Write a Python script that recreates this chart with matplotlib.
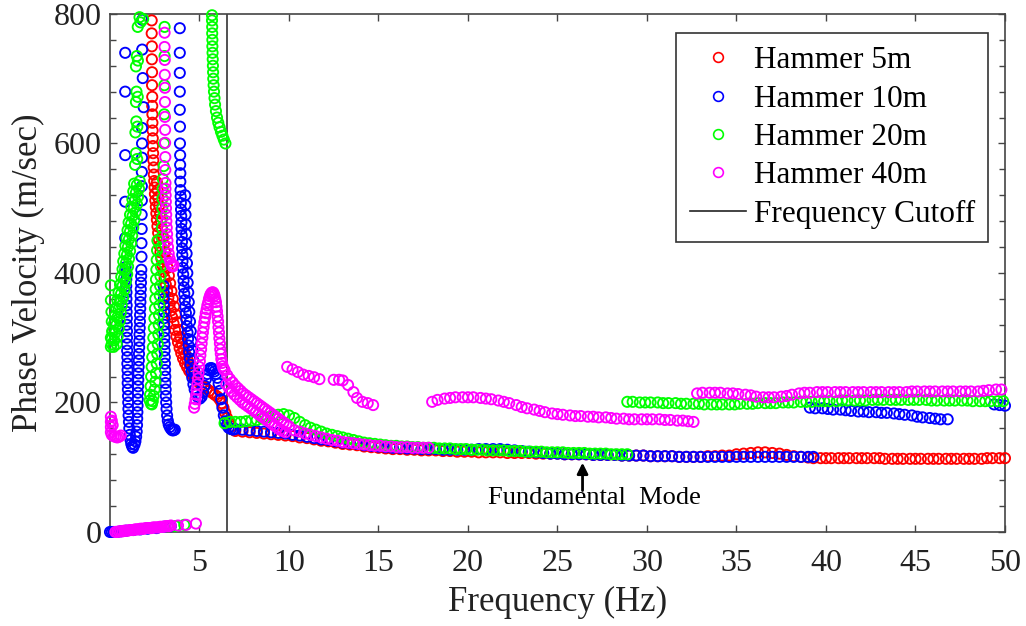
import matplotlib
matplotlib.use("Agg")
import matplotlib.pyplot as plt
from matplotlib.lines import Line2D
from matplotlib.ticker import MultipleLocator

plt.rcParams['font.family'] = ['Liberation Serif', 'DejaVu Serif']

# ---------------- data (frequency Hz, phase velocity m/s) ----------------
series_names = ["Hammer 5m", "Hammer 10m", "Hammer 20m", "Hammer 40m"]
series_colors = ["#ff0000", "#0000ff", "#00ff00", "#ff00ff"]
cutoff_freq = 6.55
x_ticks = [5, 10, 15, 20, 25, 30, 35, 40, 45, 50]
y_ticks = [0, 200, 400, 600, 800]

# Hammer 5m
red_branch = [(2.33,790),(2.33,770),(2.34,750),(2.34,730),(2.35,710),(2.35,690),(2.36,672),(2.36,658),(2.37,645),(2.37,632),(2.38,620),(2.39,608),(2.40,596),(2.41,585),(2.42,574),(2.44,563),(2.45,552),(2.47,542),(2.49,532),(2.51,522),(2.53,512),(2.56,502),(2.59,492),(2.62,482),(2.65,472),(2.69,462),(2.73,452),(2.77,442),(2.82,432),(2.87,422),(2.93,412),(2.99,402),(3.05,392),(3.12,382),(3.19,372),(3.26,362),(3.33,352),(3.40,342),(3.47,332),(3.55,322),(3.63,312),(3.71,302),(3.80,293),(3.89,284),(3.98,276),(4.08,268),(4.19,261),(4.30,255),(4.42,249),(4.55,244),(4.68,239),(4.82,235),(4.96,231),(5.10,227),(5.25,224),(5.40,221),(5.55,218),(5.70,215),(5.85,212),(6.00,209),(6.12,205),(6.24,199),(6.34,192),(6.44,184),(6.54,176),(6.65,169),(6.78,163),(6.92,158)]
red_branch_b = [(2.62,540),(2.66,528),(2.70,516),(2.75,504),(2.80,492),(2.85,480),(2.90,468),(2.96,456),(3.02,444),(3.08,432),(3.15,420),(3.22,408),(3.29,396),(3.36,384),(3.43,372),(3.51,360),(3.59,348),(3.67,336),(3.75,324),(3.84,312),(3.93,301),(4.02,291),(4.12,282),(4.22,274),(4.33,266),(4.45,259),(4.58,252),(4.72,246)]
red_fund = [(7.0,156),(7.4,155),(7.8,154),(8.2,153),(8.6,152),(9.0,151),(9.4,150),(9.8,149),(10.2,148),(10.6,146),(11.0,145),(11.4,143),(11.8,141),(12.2,140),(12.6,138),(13.0,136),(13.4,135),(13.8,134),(14.2,132),(14.6,131),(15.0,130),(15.4,129),(15.8,128),(16.2,128),(16.6,127),(17.0,127),(17.4,126),(17.8,126),(18.2,126),(18.6,125),(19.0,125),(19.4,124),(19.8,124),(20.2,124),(20.6,123),(21.0,123),(21.4,123),(21.8,123),(22.2,122),(22.6,122),(23.0,122),(23.4,122),(23.8,121),(24.2,121),(24.6,121),(25.0,121),(25.4,120),(25.8,120),(26.2,120),(26.6,120),(27.0,119),(27.4,119),(27.8,119),(28.2,119),(28.6,118),(29.0,118),(29.4,118),(29.8,118),(30.2,117),(30.6,117),(31.0,117),(31.4,117),(31.8,116),(32.2,116),(32.6,116),(33.0,116),(33.4,117),(33.8,117),(34.2,118),(34.6,118),(35.0,120),(35.4,121),(35.8,122),(36.2,123),(36.6,123),(37.0,122),(37.4,121),(37.8,119),(38.2,117),(38.6,116),(39.0,115)]
red_tail = [(39.3,114),(39.7,114),(40.0,114),(40.3,114),(40.7,114),(41.0,114),(41.3,114),(41.7,114),(42.0,114),(42.3,114),(42.7,114),(43.0,114),(43.3,113),(43.7,113),(44.0,113),(44.3,113),(44.7,113),(45.0,113),(45.3,113),(45.7,113),(46.0,113),(46.3,113),(46.7,113),(47.0,113),(47.3,113),(47.7,113),(48.0,113),(48.3,113),(48.7,113),(49.0,114),(49.3,114),(49.7,114),(50.0,114)]

# Hammer 10m
blue_floor = [(0.0,0),(0.1,0),(0.2,0),(0.3,0),(0.4,0),(0.6,1),(0.9,2),(1.3,3),(1.7,4),(2.1,5),(2.6,6),(3.0,8),(3.4,9)]
blue_sparse = [(0.85,740),(0.85,680),(0.85,582),(0.85,510),(0.85,454),(0.87,409)]
blue_col_a = [(0.90,400),(0.91,390),(0.91,380),(0.92,370),(0.92,360),(0.93,350),(0.93,340),(0.94,330),(0.94,320),(0.95,310),(0.95,300),(0.96,290),(0.96,280),(0.97,270),(0.97,260),(0.98,250),(0.99,240),(0.99,230),(1.00,220),(1.01,210),(1.02,200),(1.03,190),(1.04,180),(1.06,170),(1.08,160),(1.11,150),(1.15,142),(1.19,136),(1.24,132),(1.29,130)]
blue_col_b = [(1.80,791),(1.80,745),(1.83,701),(1.88,656),(1.79,624),(1.79,600),(1.79,578),(1.78,556),(1.78,534),(1.78,512),(1.77,490),(1.77,468),(1.76,446),(1.76,425),(1.75,405),(1.74,395),(1.73,385),(1.72,375),(1.71,365),(1.70,355),(1.69,345),(1.68,335),(1.67,325),(1.66,315),(1.65,305),(1.64,295),(1.63,285),(1.62,275),(1.61,265),(1.60,255),(1.59,245),(1.58,235),(1.57,225),(1.56,215),(1.55,205),(1.54,195),(1.53,185),(1.52,175),(1.51,165),(1.49,155),(1.46,147),(1.42,140),(1.37,135)]
blue_col_c = [(3.00,380),(3.00,370),(3.01,360),(3.01,350),(3.02,340),(3.02,330),(3.03,320),(3.03,310),(3.04,300),(3.05,290),(3.05,280),(3.06,270),(3.07,260),(3.08,250),(3.09,240),(3.10,230),(3.11,220),(3.12,210),(3.14,200),(3.16,190),(3.19,180),(3.23,172),(3.28,166),(3.34,162),(3.41,159),(3.48,157),(3.55,157),(3.62,158)]
blue_col_d = [(3.90,778),(3.90,740),(3.90,709),(3.90,680),(3.90,652),(3.91,626),(3.91,600),(3.92,582),(3.92,567),(3.93,554),(3.93,541),(3.94,528),(3.95,518),(3.96,508),(3.97,498),(3.98,488),(3.99,478),(4.00,468),(4.01,458),(4.02,448),(4.03,438),(4.04,428),(4.05,418),(4.07,408),(4.09,398),(4.11,388),(4.13,378),(4.15,368),(4.18,358),(4.21,348),(4.24,338),(4.27,328),(4.30,318),(4.33,308),(4.36,298),(4.39,288),(4.42,278),(4.46,268),(4.50,258),(4.55,248),(4.60,238),(4.66,228),(4.73,220),(4.82,213),(4.92,208),(5.02,206),(5.12,209),(5.20,216),(5.28,226),(5.36,236),(5.44,244),(5.52,250),(5.60,253),(5.68,253),(5.76,251),(5.84,248),(5.92,244),(6.00,238),(6.07,229),(6.14,218),(6.21,205),(6.28,192),(6.36,180),(6.44,171),(6.53,165),(6.63,161),(6.75,159),(6.88,158)]
blue_col_e = [(4.20,520),(4.21,505),(4.22,490),(4.23,475),(4.25,460),(4.26,445),(4.28,430),(4.30,415),(4.32,400),(4.34,385),(4.37,370),(4.40,355),(4.43,340),(4.47,325),(4.51,310),(4.55,295),(4.60,280),(4.65,265),(4.70,250),(4.76,237)]
blue_fund = [(7.0,159),(7.4,158),(7.8,157),(8.2,156),(8.6,155),(9.0,154),(9.4,153),(9.8,152),(10.2,150),(10.6,149),(11.0,147),(11.4,145),(11.8,143),(12.2,142),(12.6,140),(13.0,138),(13.4,137),(13.8,136),(14.2,134),(14.6,133),(15.0,132),(15.4,131),(15.8,130),(16.2,130),(16.6,129),(17.0,129),(17.4,128),(17.8,128),(18.2,128),(18.6,127),(19.0,127),(19.4,127),(19.8,127),(20.2,127),(20.6,128),(21.0,128),(21.4,128),(21.8,128),(22.2,127),(22.6,126),(23.0,125),(23.4,124),(23.8,123),(24.2,122),(24.6,121),(25.0,121),(25.4,120),(25.8,120),(26.2,120),(26.6,120),(27.0,119),(27.4,119),(27.8,119),(28.2,119),(28.6,118),(29.0,118),(29.4,118),(29.8,118),(30.2,117),(30.6,117),(31.0,117),(31.4,117),(31.8,116),(32.2,116),(32.6,116),(33.0,116),(33.4,116),(33.8,116),(34.2,116),(34.6,116),(35.0,116),(35.4,116),(35.8,116),(36.2,116),(36.6,116),(37.0,116),(37.4,116),(37.8,116),(38.2,116),(38.6,116),(39.0,116),(39.3,116)]
blue_upper = [(39.1,192),(39.4,191),(39.8,191),(40.1,190),(40.4,189),(40.8,189),(41.1,188),(41.4,187),(41.8,186),(42.1,186),(42.4,185),(42.8,185),(43.1,184),(43.4,184),(43.8,183),(44.1,182),(44.4,181),(44.8,180),(45.1,178),(45.4,177),(45.8,176),(46.1,175),(46.4,174),(46.8,174),(49.4,197),(49.7,196),(50.0,195)]

# Hammer 20m
green_edge = [(0.05,381),(0.05,358),(0.08,340),(0.10,325),(0.12,310),(0.05,300),(0.10,290)]
green_rise_a = [(0.05,286),(0.10,298),(0.16,310),(0.23,322),(0.28,334),(0.34,346),(0.41,358),(0.48,370),(0.56,382),(0.63,394),(0.70,406),(0.74,418),(0.80,430),(0.86,442),(0.92,454),(0.98,466),(1.04,478),(1.12,490),(1.19,502),(1.25,514),(1.30,526),(1.35,538)]
green_rise_b = [(0.37,290),(0.43,302),(0.49,314),(0.55,326),(0.60,338),(0.66,350),(0.73,362),(0.81,374),(0.88,386),(0.96,398),(1.01,410),(1.06,422),(1.12,434),(1.18,446),(1.24,458),(1.30,470),(1.36,482),(1.43,494),(1.51,506),(1.57,518),(1.62,530),(1.66,542)]
green_rise_c = [(0.20,286),(0.24,296),(0.30,308),(0.36,320),(0.42,332),(0.48,344),(0.55,356),(0.62,368),(0.70,380),(0.78,392),(0.84,404),(0.90,416),(0.95,428),(1.00,440),(1.06,452),(1.12,464),(1.18,476),(1.26,488),(1.33,500),(1.40,512),(1.45,524),(1.50,536)]
green_blobs = [(1.40,567),(1.52,576),(1.45,585),(1.42,617),(1.53,626),(1.47,634),(1.45,664),(1.55,672),(1.48,680),(1.45,719),(1.56,728),(1.50,735),(1.55,780),(1.70,787),(1.85,792),(1.65,795)]
green_col = [(3.05,780),(3.05,735),(3.04,690),(3.03,645),(3.02,600),(3.00,565),(2.95,545),(2.94,530),(2.93,515),(2.92,500),(2.91,485),(2.90,470),(2.88,455),(2.87,440),(2.85,425),(2.84,410),(2.82,395),(2.80,380),(2.78,365),(2.76,350),(2.74,335),(2.72,320),(2.70,305),(2.67,290),(2.64,275),(2.61,260),(2.57,245),(2.53,232),(2.49,220),(2.44,210),(2.39,202),(2.34,197),(2.29,198)]
green_col_b = [(2.65,450),(2.63,435),(2.61,420),(2.59,405),(2.57,390),(2.55,375),(2.53,360),(2.51,345),(2.48,330),(2.45,315),(2.42,300),(2.39,285),(2.36,270),(2.33,255),(2.30,240),(2.27,225),(2.24,212),(2.22,203)]
green_high = [(5.70,798),(5.70,790),(5.71,780),(5.71,770),(5.72,760),(5.72,750),(5.73,740),(5.74,730),(5.75,720),(5.76,710),(5.77,700),(5.79,690),(5.81,680),(5.84,670),(5.87,660),(5.92,650),(5.98,640),(6.05,632),(6.12,625),(6.20,618),(6.28,612),(6.36,606),(6.45,600)]
green_floor = [(3.65,9),(4.15,11)]
green_fund = [(6.4,168),(6.7,170),(7.0,170),(7.3,170),(7.6,171),(7.9,172),(8.2,173),(8.5,175),(8.8,177),(9.1,179),(9.4,181),(9.7,182),(10.0,180),(10.3,176),(10.6,170),(10.9,165),(11.2,161),(11.5,158),(11.8,155),(12.1,152),(12.4,150),(12.7,148),(13.0,146),(13.3,144),(13.6,142),(13.9,140),(14.2,138),(14.5,137),(14.8,136),(15.1,135),(15.4,134),(15.7,133),(16.0,133),(16.3,132),(16.6,132),(16.9,131),(17.2,131),(17.5,130),(17.8,130),(18.1,130),(18.4,129),(18.7,129),(19.0,129),(19.3,128),(19.6,128),(19.9,128),(20.2,127),(20.5,127),(20.8,127),(21.1,126),(21.4,126),(21.7,126),(22.0,126),(22.3,125),(22.6,125),(22.9,125),(23.2,124),(23.5,124),(23.8,124),(24.1,124),(24.4,123),(24.7,123),(25.0,123),(25.3,123),(25.6,122),(25.9,122),(26.2,122),(26.5,122),(26.8,121),(27.1,121),(27.4,121),(27.7,121),(28.0,120),(28.3,120),(28.6,120),(28.9,120)]
green_upper = [(28.9,201),(29.2,201),(29.6,200),(29.9,200),(30.2,200),(30.6,200),(30.9,199),(31.2,199),(31.6,199),(31.9,198),(32.2,198),(32.6,198),(32.9,198),(33.2,197),(33.6,197),(33.9,197),(34.2,197),(34.6,197),(34.9,197),(35.2,198),(35.6,198),(35.9,198),(36.2,199),(36.6,199),(36.9,199),(37.2,199),(37.6,200),(37.9,200),(38.2,200),(38.6,201),(38.9,201),(39.2,201),(39.6,202),(39.9,202),(40.2,202),(40.6,202),(40.9,203),(41.2,203),(41.6,203),(41.9,203),(42.2,203),(42.6,204),(42.9,204),(43.2,204),(43.6,204),(43.9,204),(44.2,204),(44.6,204),(44.9,204),(45.2,204),(45.6,204),(45.9,203),(46.2,203),(46.6,203),(46.9,203),(47.2,203),(47.6,203),(47.9,203),(48.2,202),(48.6,202),(48.9,202),(49.2,202),(49.6,202),(49.9,202)]

# Hammer 40m
mag_blob = [(0.05,178),(0.05,170),(0.05,162),(0.05,154),(0.10,172),(0.15,165),(0.10,150),(0.20,148),(0.30,147),(0.40,146),(0.50,147),(0.60,149)]
mag_floor = [(0.3,0),(0.4,0),(0.5,1),(0.6,1),(0.7,1),(0.8,2),(0.9,2),(1.0,2),(1.1,3),(1.2,3),(1.3,3),(1.4,4),(1.5,4),(1.6,4),(1.7,5),(1.8,5),(1.9,5),(2.0,6),(2.1,6),(2.2,6),(2.3,6),(2.4,7),(2.5,7),(2.6,7),(2.7,7),(2.8,8),(2.9,8),(3.0,8),(3.1,9),(3.2,9),(3.3,9),(3.4,10),(3.8,10),(4.25,11),(4.8,13)]
mag_col = [(3.05,771),(3.05,749),(3.06,729),(3.06,706),(3.07,686),(3.07,664),(3.07,641),(3.08,621),(3.08,601),(3.09,579),(3.09,559),(3.10,539),(3.10,530),(3.11,520),(3.12,510),(3.13,500),(3.14,490),(3.15,480),(3.17,470),(3.19,460),(3.21,450),(3.24,440),(3.28,430),(3.33,422),(3.38,416),(3.44,412),(3.50,410),(3.55,412)]
mag_hump = [(4.70,192),(4.78,205),(4.85,220),(4.92,237),(4.98,255),(5.05,273),(5.12,291),(5.19,308),(5.27,324),(5.35,338),(5.44,350),(5.53,360),(5.62,367),(5.71,370),(5.80,368),(5.88,360),(5.95,348),(6.01,333),(6.06,316),(6.11,299),(6.16,282),(6.22,267),(6.30,256)]
mag_hump_b = [(4.74,198),(4.82,212),(4.88,228),(4.95,246),(5.02,264),(5.09,282),(5.16,300),(5.23,316),(5.31,331),(5.40,344),(5.49,355),(5.58,364),(5.67,369),(5.76,370),(5.84,365),(5.92,355),(5.98,341),(6.04,325),(6.09,308),(6.14,291),(6.19,275),(6.26,261),(6.35,252)]
mag_slope_a = [(6.40,250),(6.55,242),(6.70,236),(6.85,231),(7.00,226),(7.15,222),(7.30,218),(7.45,214),(7.60,211),(7.75,208),(7.90,205),(8.05,202),(8.20,199),(8.35,196),(8.50,193),(8.65,190),(8.80,187),(8.95,184),(9.10,181),(9.25,178),(9.40,175),(9.55,172),(9.70,169),(9.85,166),(10.00,163)]
mag_slope_b = [(6.50,228),(6.65,222),(6.80,217),(6.95,212),(7.10,208),(7.25,204),(7.40,200),(7.55,197),(7.70,194),(7.85,191),(8.00,188),(8.15,185),(8.30,182),(8.45,179),(8.60,176),(8.75,173),(8.90,170),(9.05,167),(9.20,164),(9.35,161),(9.50,158),(9.65,156),(9.80,154)]
mag_group = [(9.9,255),(10.2,251),(10.5,247),(10.8,243),(11.1,241),(11.4,239),(11.7,236),(12.5,235),(12.8,235),(13.0,234),(13.3,227),(13.6,216),(13.8,207),(14.1,201),(14.4,199),(14.7,196)]
mag_fund = [(10.3,157),(10.6,155),(10.9,152),(11.2,150),(11.5,148),(11.8,146),(12.1,144),(12.4,142),(12.7,141),(13.0,139),(13.3,138),(13.6,137),(13.9,136),(14.2,135),(14.5,134),(14.8,133),(15.1,133),(15.4,132),(15.7,132),(16.0,131),(16.3,131),(16.6,131),(16.9,130),(17.2,130),(17.5,130),(17.8,130)]
mag_mid = [(18.0,201),(18.3,204),(18.7,206),(19.0,207),(19.3,208),(19.7,208),(20.0,208),(20.3,208),(20.7,207),(21.0,206),(21.3,205),(21.7,203),(22.0,201),(22.3,199),(22.7,196),(23.0,193),(23.3,191),(23.7,189),(24.0,187),(24.3,185),(24.7,183),(25.0,182),(25.3,181),(25.7,180),(26.0,179),(26.3,179),(26.7,178),(27.0,178),(27.3,177),(27.7,177),(28.0,176),(28.3,175),(28.7,175),(29.0,174),(29.3,174),(29.7,174),(30.0,174),(30.3,174),(30.7,174),(31.0,173),(31.3,173),(31.7,172),(32.0,172),(32.3,171),(32.6,170)]
mag_upper = [(32.8,214),(33.1,215),(33.5,215),(33.8,215),(34.1,215),(34.5,214),(34.8,214),(35.1,213),(35.5,212),(35.8,211),(36.1,209),(36.5,208),(36.8,208),(37.1,208),(37.5,209),(37.8,210),(38.1,212),(38.5,214),(38.8,215),(39.1,215),(39.5,216),(39.8,216),(40.1,216),(40.5,216),(40.8,216),(41.1,216),(41.5,216),(41.8,216),(42.1,216),(42.5,216),(42.8,216),(43.1,216),(43.5,216),(43.8,216),(44.1,216),(44.5,216),(44.8,217),(45.1,217),(45.5,217),(45.8,217),(46.1,217),(46.5,217),(46.8,217),(47.1,217),(47.5,217),(47.8,217),(48.1,217),(48.5,217),(48.8,218),(49.1,219),(49.5,220),(49.8,220)]

series_points = [
    red_branch + red_branch_b + red_fund + red_tail,
    blue_floor + blue_sparse + blue_col_a + blue_col_b + blue_col_c + blue_col_d + blue_col_e + blue_fund + blue_upper,
    green_edge + green_rise_a + green_rise_b + green_rise_c + green_blobs + green_col + green_col_b + green_high + green_floor + green_fund + green_upper,
    mag_blob + mag_floor + mag_col + mag_hump + mag_hump_b + mag_slope_a + mag_slope_b + mag_group + mag_fund + mag_mid + mag_upper,
]

# ---------------- figure ----------------
fig = plt.figure(figsize=(10.26, 6.26), dpi=100)
ax = fig.add_axes([0.1072, 0.1502, 0.8723, 0.8275])

for k, (pts, col) in enumerate(zip(series_points, series_colors)):
    xs = [p[0] for p in pts]
    ys = [p[1] for p in pts]
    ax.scatter(xs, ys, s=54, facecolors='none', edgecolors=col,
               linewidths=1.35, zorder=3 + k, clip_on=False)

ax.axvline(cutoff_freq, color='#333333', lw=1.2, zorder=2)

ax.set_xlim(0, 50)
ax.set_ylim(0, 800)
ax.set_xticks(x_ticks)
ax.set_yticks(y_ticks)
ax.yaxis.set_minor_locator(MultipleLocator(40))
ax.tick_params(axis='both', which='both', direction='in', top=True, right=True,
               colors='#444444', labelcolor='#222222', labelsize=23)
ax.tick_params(axis='both', which='major', length=5, width=1.0)
ax.tick_params(axis='y', which='minor', length=4, width=1.0)
ax.tick_params(axis='x', which='major', pad=12)
ax.tick_params(axis='y', which='major', pad=6)
for sp in ax.spines.values():
    sp.set_color('#444444')
    sp.set_linewidth(1.2)

ax.set_xlabel('Frequency (Hz)', fontsize=25, color='#222222', labelpad=6)
ax.set_ylabel('Phase Velocity (m/sec)', fontsize=25, color='#222222', labelpad=6)

# annotation
ax.annotate('', xy=(26.4, 107), xytext=(26.4, 64),
            arrowprops=dict(arrowstyle='-|>', color='black', lw=2.0,
                            mutation_scale=16, shrinkA=0, shrinkB=0), zorder=10)
ax.text(27.05, 53, 'Fundamental  Mode', fontsize=19, ha='center', va='center',
        color='black', zorder=10)

# legend
handles = [Line2D([], [], linestyle='none', marker='o', markersize=7,
                  markerfacecolor='none', markeredgecolor=c, markeredgewidth=1.2)
           for c in series_colors]
handles.append(Line2D([], [], color='#222222', lw=1.2))
labels = series_names + ['Frequency Cutoff']
leg = ax.legend(handles, labels, loc='upper right', bbox_to_anchor=(0.981, 0.963),
                borderaxespad=0, fontsize=22.5, frameon=True, fancybox=False,
                framealpha=1, edgecolor='#333333', handlelength=1.8,
                handletextpad=0.25, labelspacing=0.3, borderpad=0.42)
leg.get_frame().set_linewidth(1.2)
leg.set_zorder(20)

fig.savefig('out.png', dpi=100)
